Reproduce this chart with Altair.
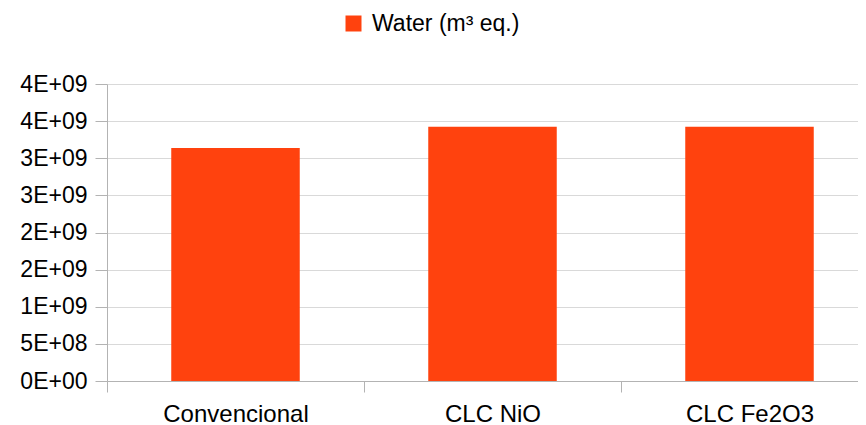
import altair as alt
import pandas as pd

categories = ["Convencional", "CLC NiO", "CLC Fe2O3"]
values = [3.137e9, 3.424e9, 3.424e9]
series_name = "Water (m³ eq.)"
y_ticks = [0, 5e8, 1e9, 1.5e9, 2e9, 2.5e9, 3e9, 3.5e9, 4e9]

df = pd.DataFrame({"category": categories, "value": values, "series": [series_name] * len(categories)})

FONT = "Liberation Sans"
FS = 23

chart = (
    alt.Chart(df)
    .mark_bar(color="#ff420e", width={"band": 0.5})
    .encode(
        x=alt.X(
            "category:N",
            sort=categories,
            scale=alt.Scale(range=[0, 771], paddingInner=0, paddingOuter=0),
            axis=alt.Axis(
                title=None,
                labelAngle=0,
                tickBand="extent",
                tickSize=11,
                tickColor="#b3b3b3",
                domainColor="#b3b3b3",
                labelFont=FONT,
                labelFontSize=24,
                labelColor="#000000",
                labelPadding=10,
                grid=False,
            ),
        ),
        y=alt.Y(
            "value:Q",
            scale=alt.Scale(domain=[0, 4e9], nice=False),
            axis=alt.Axis(
                title=None,
                values=y_ticks,
                labelExpr="upper(replace(format(datum.value, '.0e'), 'e+', 'E+0'))",
                tickSize=12,
                tickColor="#b3b3b3",
                domainColor="#b3b3b3",
                gridColor="#d9d9d9",
                labelFont=FONT,
                labelFontSize=FS,
                labelColor="#000000",
                labelPadding=8,
            ),
        ),
        color=alt.Color(
            "series:N",
            scale=alt.Scale(domain=[series_name], range=["#ff420e"]),
            legend=alt.Legend(
                title=None,
                orient="none",
                legendX=235,
                legendY=-72,
                symbolType="square",
                symbolSize=256,
                symbolStrokeWidth=0,
                symbolOpacity=1,
                labelFont=FONT,
                labelFontSize=FS,
                labelColor="#000000",
                labelOffset=7,
                padding=0,
            ),
        ),
    )
    .properties(
        width=751,
        height=297,
        autosize=alt.AutoSizeParams(type="none"),
        padding={"left": 99, "top": 76, "right": 0, "bottom": 45},
    )
    .configure_view(stroke=None)
    .configure_axis(domainWidth=1, tickWidth=1, gridWidth=1)
)

chart.save("out.html", embed_options={"renderer": "svg", "actions": False})
